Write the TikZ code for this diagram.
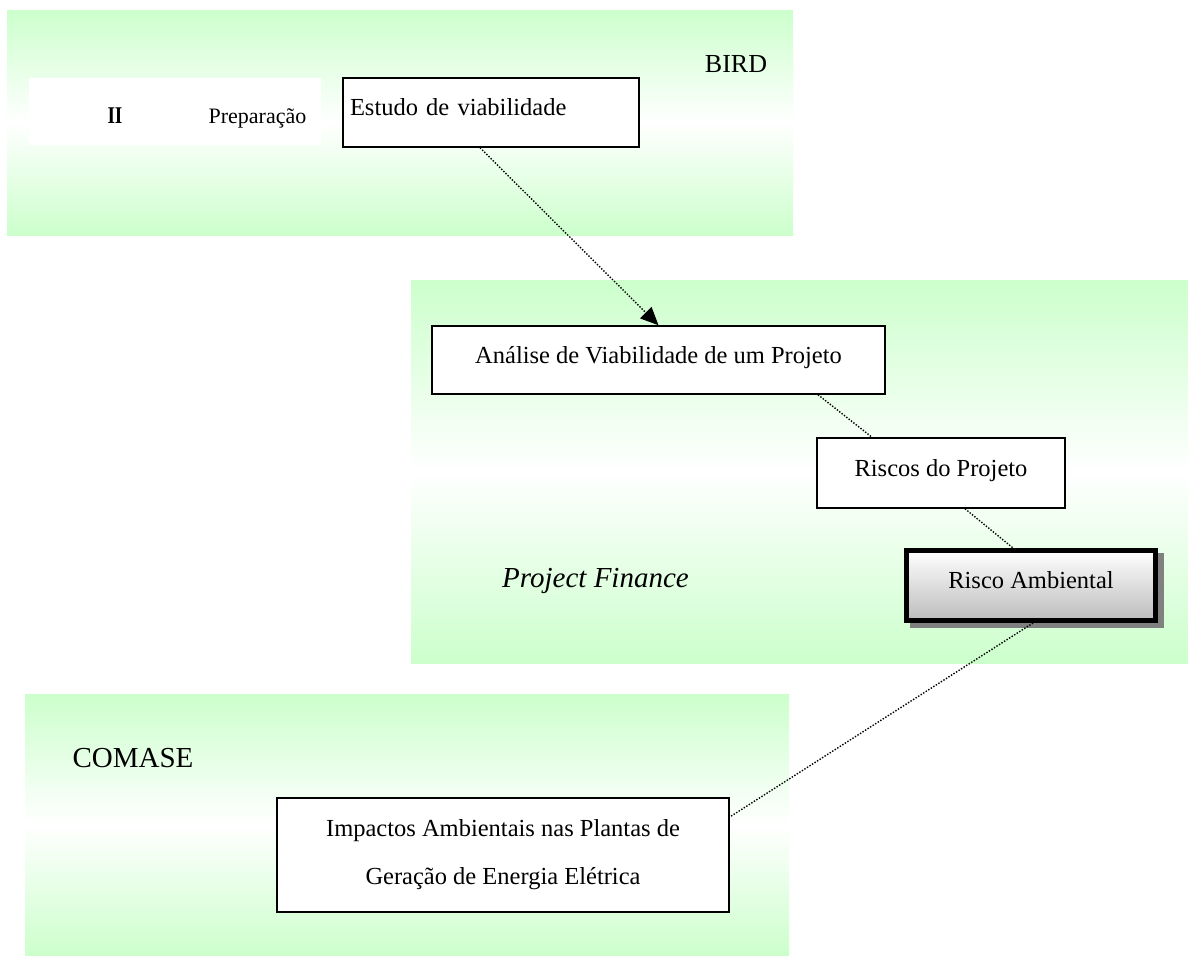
\documentclass[tikz,border=0pt]{standalone}
\usepackage{fontspec}
\setmainfont{Liberation Serif}
\usetikzlibrary{arrows.meta,calc}
\definecolor{pgreen}{RGB}{204,255,204}
\definecolor{ashadow}{RGB}{128,128,128}
\definecolor{abottom}{RGB}{188,188,188}
\begin{document}
\begin{tikzpicture}[x=1pt,y=-1pt,
  panel/.style={top color=pgreen,bottom color=pgreen,middle color=white,draw=none},
  boxtext/.style={font=\fontsize{24.5}{29}\selectfont},
  box/.style={boxtext,draw=black,line width=1.5pt,fill=white,inner sep=0pt,
    text height=16pt,text depth=10pt},
  ambbox/.style={boxtext,draw=black,line width=5pt,top color=white,bottom color=abottom,
    inner sep=0pt,text height=16pt,text depth=10pt,
    preaction={draw=ashadow,fill=ashadow,line width=5pt,
      transform canvas={shift={(6pt,-5pt)}}}},
  conn/.style={line width=1.4pt,dash pattern=on 1.4pt off 1.6pt},
  title/.style={anchor=base,font=\fontsize{29}{34}\selectfont}
]
\useasboundingbox (0,0) rectangle (1188,956);
\fill[white] (0,0) rectangle (1188,956);

% panels
\path[panel] (7,10) rectangle (793,235);
\path[panel] (411,280) rectangle (1188,663);
\path[panel] (25,694) rectangle (789,955);

% BIRD panel
\node[title,font=\fontsize{26}{30}\selectfont] (bird) at (736,72) {BIRD};
\node[fill=white,inner sep=0pt,minimum width=292pt,minimum height=67pt] (prep) at (175,111.5) {};
\node[anchor=base,font=\fontsize{24}{28}\selectfont\bfseries] (roman) at (115,123) {\scalebox{0.8}[1]{II}};
\node[anchor=base,font=\fontsize{22}{26}\selectfont] (prepara) at (257.5,123) {Preparação};
\node[box,minimum width=296pt,minimum height=69pt,text width=282pt,align=left] (estudo) at (491,112.5) {Estudo de viabilidade};

% Project Finance panel
\node[box,minimum width=453pt,minimum height=68pt] (analise) at (658.5,360) {Análise de Viabilidade de um Projeto};
\node[box,minimum width=248pt,minimum height=70pt] (riscos) at (941,473) {Riscos do Projeto};
\node[ambbox,minimum width=249pt,minimum height=70pt] (amb) at (1031,585.5) {Risco Ambiental};
\node[title,font=\fontsize{29}{34}\selectfont\itshape] (pf) at (595.5,587) {Project Finance};

% COMASE panel
\node[title] (comase) at (133,767) {COMASE};
\node[boxtext,draw=black,line width=1.5pt,fill=white,inner sep=0pt,
  minimum width=452pt,minimum height=114pt,align=center,
  font=\fontsize{24.5}{48}\selectfont] (impactos) at (503,855)
  {Impactos Ambientais nas Plantas de\\Geração de Energia Elétrica};

% connectors
\draw[conn,-{Triangle[length=18pt,width=16pt]}] ($(estudo.south)+(-11,0)$) -- (analise.north);
\draw[conn] ($(analise.south)+(159.5,0)$) -- ($(riscos.north)+(-69,0)$);
\draw[conn] ($(riscos.south)+(24,0)$) -- ($(amb.north)+(-18,0)$);
\draw[conn] ($(amb.south)+(2,0)$) -- ($(impactos.north east)+(-2,21)$);
\end{tikzpicture}
\end{document}
